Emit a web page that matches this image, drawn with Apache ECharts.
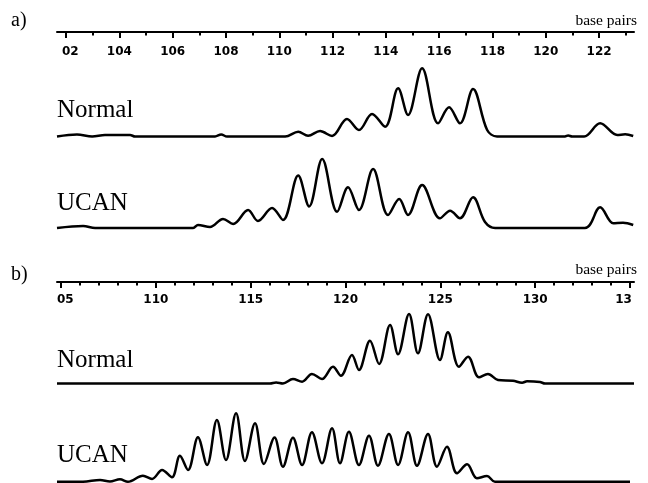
<!DOCTYPE html>
<html>
<head>
<meta charset="utf-8">
<script src="https://cdn.jsdelivr.net/npm/echarts@6/dist/echarts.min.js"></script>
<style>html,body{margin:0;padding:0;background:#fff}#c{width:648px;height:483px}</style>
</head>
<body>
<div id="c"></div>
<script>
// ---------- panel a: axis (base pairs) ----------
const aRange = [101.66, 123.31];
const aMajorTicks = [102, 104, 106, 108, 110, 112, 114, 116, 118, 120, 122];
const aTickLabels = ['02', '104', '106', '108', '110', '112', '114', '116', '118', '120', '122'];
const aMinorTicks = [103, 105, 107, 109, 111, 113, 115, 117, 119, 121, 123];

// panel a traces: [base pairs, signal]
const aNormal = [
  [101.66,0],[102.41,2],[102.98,0],[103.46,1.5],[104.40,1.5],[104.59,0],[107.59,0],[107.82,2],[108.04,0],
  [110.22,0],[110.71,4.8],[111.08,0.8],[111.53,5.5],[111.98,0.5],[112.54,17.5],[112.99,6.5],[113.48,22.5],
  [113.97,9.8],[114.46,48.2],[114.83,21.5],[115.36,68.2],[115.96,13.2],[116.37,29.2],[116.78,13.2],
  [117.27,47.5],[117.80,6.5],[118.17,0],[120.72,0],[120.84,1],[120.99,0],[121.44,0],[122.04,13.2],
  [122.68,1.5],[122.98,2.2],[123.28,0.5]
];
const aUCAN = [
  [101.66,0],[102.64,2],[103.09,0],[106.77,0],[106.95,3],[107.40,1],[107.89,9],[108.27,4],[108.83,18],
  [109.20,7],[109.73,20],[110.14,8],[110.71,52.5],[111.12,21.5],[111.61,69],[112.17,16.3],[112.58,40.7],
  [112.99,18],[113.52,59],[114.08,13],[114.50,29],[114.83,13],[115.36,43],[116.03,9.7],[116.41,17.3],
  [116.78,9.7],[117.27,30.7],[117.72,6],[118.10,0],[121.47,0],[122.04,20.7],[122.53,4.7],[122.90,5.3],
  [123.28,3]
];

// ---------- panel b: axis (base pairs) ----------
const bRange = [104.79, 135.21];
const bMajorTicks = [105, 110, 115, 120, 125, 130, 135];
const bTickLabels = ['05', '110', '115', '120', '125', '130', '13'];
const bMinorTicks = [106,107,108,109,111,112,113,114,116,117,118,119,121,122,123,124,126,127,128,129,131,132,133,134];

const bNormal = [
  [104.79,0],[116.02,0],[116.34,1],[116.70,0],[117.23,4.5],[117.71,1.8],[118.23,9.5],[118.76,4.5],
  [119.34,16.8],[119.76,7.8],[120.34,28.5],[120.71,13.5],[121.29,42.8],[121.77,19.5],[122.35,58.5],
  [122.77,29.2],[123.35,69.5],[123.82,30.2],[124.35,69.2],[124.98,23.5],[125.40,51.2],[125.98,16.8],
  [126.46,26.8],[127.04,6.2],[127.51,9.5],[128.04,3.5],[128.83,2.8],[129.31,0.8],[129.57,2.2],
  [130.25,1.5],[130.52,0],[135.21,0]
];
const bUCAN = [
  [104.79,0],[106.16,0],[107.06,1.7],[107.58,0.2],[108.11,2.4],[108.53,0],[109.32,6],[109.80,2.7],
  [110.33,11.7],[110.85,4.4],[111.27,26],[111.70,11.7],[112.22,44.4],[112.70,16.7],[113.22,61.7],
  [113.70,21.7],[114.23,68.4],[114.70,20.7],[115.23,58.4],[115.70,17.7],[116.26,44.2],[116.70,15],
  [117.23,44],[117.71,16.7],[118.23,49.4],[118.76,18.4],[119.29,53.4],[119.71,18.4],[120.18,50],
  [120.71,16.7],[121.24,46],[121.71,16],[122.29,47.7],[122.77,16.7],[123.30,49.4],[123.77,16],
  [124.35,47.7],[124.82,15],[125.35,35],[125.88,8.4],[126.41,17.4],[126.93,3.4],[127.46,5.7],
  [127.88,0],[135.0,0]
];

const sampleNames = ['Normal', 'UCAN'];
const panelNames = ['a)', 'b)'];
const unitName = 'base pairs';

// ---------- chart ----------
const TICKFONT = 'DejaVu Sans';
const SERIF = 'Liberation Serif';

function labelFormatter(majors, labels) {
  return function (v) {
    const i = majors.findIndex(m => Math.abs(m - v) < 1e-6);
    if (i < 0) return '';
    if (i === 0) return '{l|' + labels[i] + '}';
    if (i === majors.length - 1 && labels[i].length < 3) return '{r|' + labels[i] + '}';
    return '{n|' + labels[i] + '}';
  };
}
const richBase = { fontFamily: TICKFONT, fontWeight: 'bold', fontSize: 12, color: '#000' };
const rich = {
  n: Object.assign({}, richBase),
  l: Object.assign({ padding: [0, 0, 0, 8.5] }, richBase),
  r: Object.assign({ padding: [0, 13, 0, 0] }, richBase)
};

function majorAxis(grid, range, majors, labels, margin) {
  return {
    type: 'value', gridIndex: grid, position: 'top', min: range[0], max: range[1],
    axisLine: { show: true, onZero: false, lineStyle: { color: '#000', width: 2 } },
    axisTick: { show: true, inside: true, length: 6, customValues: majors, lineStyle: { color: '#000', width: 2 } },
    axisLabel: { show: true, inside: true, margin: margin, customValues: majors, verticalAlign: 'middle',
      formatter: labelFormatter(majors, labels), rich: rich, fontFamily: TICKFONT, fontWeight: 'bold', fontSize: 12, color: '#000' },
    splitLine: { show: false }
  };
}
function minorAxis(grid, range, minors) {
  return {
    type: 'value', gridIndex: grid, position: 'top', min: range[0], max: range[1],
    axisLine: { show: false, onZero: false },
    axisTick: { show: true, inside: true, length: 3.5, customValues: minors, lineStyle: { color: '#000', width: 2 } },
    axisLabel: { show: false },
    splitLine: { show: false }
  };
}
function hiddenX(grid, range) {
  return { type: 'value', gridIndex: grid, min: range[0], max: range[1], show: false, splitLine: { show: false } };
}
function hiddenY(grid, max) {
  return { type: 'value', gridIndex: grid, min: 0, max: max, show: false, splitLine: { show: false } };
}
function trace(xi, yi, data) {
  return {
    type: 'line', xAxisIndex: xi, yAxisIndex: yi, data: data, showSymbol: false, smooth: 0.35,
    lineStyle: { color: '#000', width: 2.5 }, silent: true, clip: false
  };
}
function txt(x, y, s, size, align) {
  return { type: 'text', x: x, y: y, silent: true,
    style: { text: s, font: size + 'px "' + SERIF + '"', fill: '#000', align: align || 'left', verticalAlign: 'middle' } };
}

const chart = echarts.init(document.getElementById('c'), null, { renderer: 'canvas' });
chart.setOption({
  animation: false,
  backgroundColor: '#fff',
  grid: [
    { left: 57, right: 14, top: 32, bottom: 346.5 },
    { left: 57, right: 14, top: 150, bottom: 255 },
    { left: 57, right: 14, top: 282, bottom: 99.5 },
    { left: 57, right: 14, top: 400, bottom: 1.3 }
  ],
  xAxis: [
    majorAxis(0, aRange, aMajorTicks, aTickLabels, 19.5),
    minorAxis(0, aRange, aMinorTicks),
    hiddenX(1, aRange),
    majorAxis(2, bRange, bMajorTicks, bTickLabels, 18),
    minorAxis(2, bRange, bMinorTicks),
    hiddenX(3, bRange)
  ],
  yAxis: [hiddenY(0, 104.5), hiddenY(1, 78), hiddenY(2, 101.5), hiddenY(3, 81.7)],
  series: [
    trace(0, 0, aNormal),
    trace(2, 1, aUCAN),
    trace(3, 2, bNormal),
    trace(5, 3, bUCAN)
  ],
  graphic: [
    txt(11, 21, panelNames[0], 20),
    txt(11, 274.5, panelNames[1], 20),
    txt(637, 21.2, unitName, 15.5, 'right'),
    txt(637, 270.4, unitName, 15.5, 'right'),
    txt(57, 110.5, sampleNames[0], 25),
    txt(57, 203, sampleNames[1], 25),
    txt(57, 360.5, sampleNames[0], 25),
    txt(57, 455, sampleNames[1], 25)
  ]
});
</script>
</body>
</html>
